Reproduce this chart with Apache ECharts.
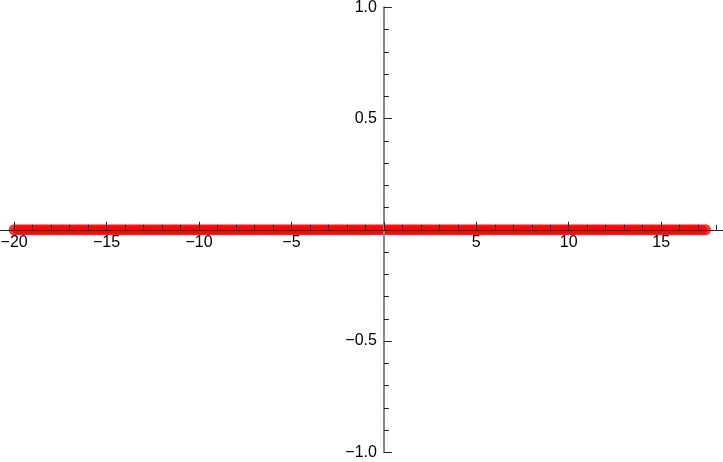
<!DOCTYPE html>
<html>
<head>
<meta charset="utf-8">
<style>
  html, body { margin: 0; padding: 0; background: #fff; }
  #main { width: 723px; height: 462px; }
</style>
<script src="https://cdn.jsdelivr.net/npm/echarts@6/dist/echarts.min.js"></script>
</head>
<body>
<div id="main"></div>
<script>
// sampled points, all lying on y = 0
const xValues = [
  -20, -19.8, -19.6, -19.4, -19.2, -19, -18.8, -18.6, -18.4, -18.2,
  -18, -17.8, -17.6, -17.4, -17.2, -17, -16.8, -16.6, -16.4, -16.2,
  -16, -15.8, -15.6, -15.4, -15.2, -15, -14.8, -14.6, -14.4, -14.2,
  -14, -13.8, -13.6, -13.4, -13.2, -13, -12.8, -12.6, -12.4, -12.2,
  -12, -11.8, -11.6, -11.4, -11.2, -11, -10.8, -10.6, -10.4, -10.2,
  -10, -9.8, -9.6, -9.4, -9.2, -9, -8.8, -8.6, -8.4, -8.2,
  -8, -7.8, -7.6, -7.4, -7.2, -7, -6.8, -6.6, -6.4, -6.2,
  -6, -5.8, -5.6, -5.4, -5.2, -5, -4.8, -4.6, -4.4, -4.2,
  -4, -3.8, -3.6, -3.4, -3.2, -3, -2.8, -2.6, -2.4, -2.2,
  -2, -1.8, -1.6, -1.4, -1.2, -1, -0.8, -0.6, -0.4, -0.2,
  0, 0.2, 0.4, 0.6, 0.8, 1, 1.2, 1.4, 1.6, 1.8,
  2, 2.2, 2.4, 2.6, 2.8, 3, 3.2, 3.4, 3.6, 3.8,
  4, 4.2, 4.4, 4.6, 4.8, 5, 5.2, 5.4, 5.6, 5.8,
  6, 6.2, 6.4, 6.6, 6.8, 7, 7.2, 7.4, 7.6, 7.8,
  8, 8.2, 8.4, 8.6, 8.8, 9, 9.2, 9.4, 9.6, 9.8,
  10, 10.2, 10.4, 10.6, 10.8, 11, 11.2, 11.4, 11.6, 11.8,
  12, 12.2, 12.4, 12.6, 12.8, 13, 13.2, 13.4, 13.6, 13.8,
  14, 14.2, 14.4, 14.6, 14.8, 15, 15.2, 15.4, 15.6, 15.8,
  16, 16.2, 16.4, 16.6, 16.8, 17, 17.2, 17.4
]
const yValues = [
  0, 0, 0, 0, 0, 0, 0, 0, 0, 0,
  0, 0, 0, 0, 0, 0, 0, 0, 0, 0,
  0, 0, 0, 0, 0, 0, 0, 0, 0, 0,
  0, 0, 0, 0, 0, 0, 0, 0, 0, 0,
  0, 0, 0, 0, 0, 0, 0, 0, 0, 0,
  0, 0, 0, 0, 0, 0, 0, 0, 0, 0,
  0, 0, 0, 0, 0, 0, 0, 0, 0, 0,
  0, 0, 0, 0, 0, 0, 0, 0, 0, 0,
  0, 0, 0, 0, 0, 0, 0, 0, 0, 0,
  0, 0, 0, 0, 0, 0, 0, 0, 0, 0,
  0, 0, 0, 0, 0, 0, 0, 0, 0, 0,
  0, 0, 0, 0, 0, 0, 0, 0, 0, 0,
  0, 0, 0, 0, 0, 0, 0, 0, 0, 0,
  0, 0, 0, 0, 0, 0, 0, 0, 0, 0,
  0, 0, 0, 0, 0, 0, 0, 0, 0, 0,
  0, 0, 0, 0, 0, 0, 0, 0, 0, 0,
  0, 0, 0, 0, 0, 0, 0, 0, 0, 0,
  0, 0, 0, 0, 0, 0, 0, 0, 0, 0,
  0, 0, 0, 0, 0, 0, 0, 0
]
// axis ranges and tick steps
const xRange = [-25, 20]
const xStep = 5
const yRange = [-1, 1]
const yStep = 0.5

const points = xValues.map((x, i) => [x, yValues[i]])

// use a real minus sign like the reference
function fmt(v, digits) {
  if (v === 0) return ''
  const s = digits ? Math.abs(v).toFixed(digits) : String(Math.abs(v))
  return v < 0 ? '\u2212' + s : s
}

const myChart = echarts.init(document.getElementById('main'))
myChart.setOption({
  animation: false,
  textStyle: { fontFamily: 'Liberation Sans' },
  // x range -25..20 pushed partly off canvas so -20.6..18.1 is visible
  grid: {
    left: -78.3, right: -30.6, top: 7.3, bottom: 9.7,
    outerBoundsMode: 'none'
  },
  xAxis: {
    type: 'value',
    position: 'bottom',
    offset: -222.5, // move the axis up to y = 0
    min: xRange[0],
    max: xRange[1],
    interval: xStep,
    z: 3,
    splitLine: { show: false },
    axisLine: { onZero: false, lineStyle: { color: '#222', width: 1 } },
    axisTick: { inside: true, length: 8, lineStyle: { color: '#222' } },
    minorTick: { show: true, splitNumber: 5, length: 5, lineStyle: { color: '#222' } },
    axisLabel: {
      margin: 5,
      fontSize: 16,
      color: '#000',
      formatter: v => fmt(v, 0)
    }
  },
  yAxis: {
    type: 'value',
    position: 'left',
    offset: -462.2, // move the axis right to x = 0
    min: yRange[0],
    max: yRange[1],
    interval: yStep,
    z: 3,
    splitLine: { show: false },
    axisLine: { onZero: false, lineStyle: { color: '#888', width: 2 } },
    axisTick: { inside: true, length: 8, lineStyle: { color: '#222' } },
    minorTick: { show: true, splitNumber: 5, length: 5, lineStyle: { color: '#222' } },
    axisLabel: {
      margin: 7,
      fontSize: 16,
      color: '#000',
      formatter: v => fmt(v, 1)
    }
  },
  series: [
    {
      type: 'scatter',
      data: points,
      symbol: 'circle',
      symbolSize: 11,
      itemStyle: { color: '#ff0000' }
    }
  ]
})
</script>
</body>
</html>
